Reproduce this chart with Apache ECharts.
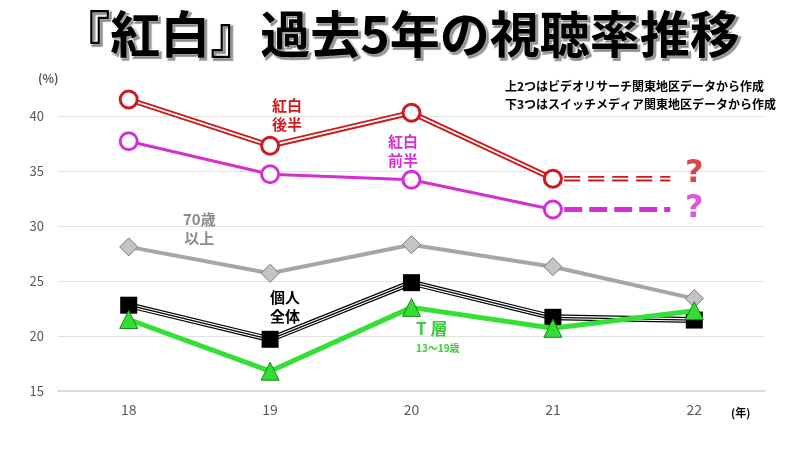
<!DOCTYPE html>
<html>
<head>
<meta charset="utf-8">
<script src="https://cdn.jsdelivr.net/npm/echarts@6/dist/echarts.min.js"></script>
<style>html,body{margin:0;padding:0;background:#fff;}#c{width:800px;height:450px;}</style>
</head>
<body>
<div id="c"></div>
<script>
const years = ['18', '19', '20', '21', '22'];
const kohakuLate = [41.5, 37.3, 40.3, 34.3, null];
const kohakuEarly = [37.7, 34.7, 34.2, 31.5, null];
const over70 = [28.1, 25.7, 28.3, 26.3, 23.4];
const allPersons = [22.8, 19.7, 24.85, 21.7, 21.45];
const teens = [21.5, 16.8, 22.6, 20.7, 22.3];
// projected (unknown) 2022 values for 紅白, drawn as dashed stubs toward "?"
const lateProjection = [[3.08, 34.3], [3.83, 34.3]];
const earlyProjection = [[3.08, 31.5], [3.83, 31.5]];
const questionMarks = [[4, 34.3, '#d0181e', -5], [4, 31.5, '#d42fd4', -1]];

const JP = '"Noto Sans CJK JP", sans-serif';
const RED = '#cc1a1e', PINK = '#d42fd4', GREY = '#a6a6a6', GREEN = '#33e033';

const chart = echarts.init(document.getElementById('c'));

function lineS(data, color, width, z, extra) {
  return Object.assign({
    type: 'line', data: data, xAxisIndex: 0, yAxisIndex: 0,
    symbol: 'none', silent: true, z: z,
    lineStyle: { color: color, width: width },
    itemStyle: { color: color }
  }, extra || {});
}
function markS(data, symbol, size, fill, border, bw, z) {
  return {
    type: 'line', data: data, xAxisIndex: 0, yAxisIndex: 0,
    symbol: symbol, symbolSize: size, showAllSymbol: true, z: z,
    lineStyle: { opacity: 0, width: 0 },
    itemStyle: { color: fill, borderColor: border, borderWidth: bw, opacity: 1 }
  };
}
function dashS(data, color, width, dash, z) {
  return {
    type: 'line', data: data, xAxisIndex: 1, yAxisIndex: 0,
    symbol: 'none', silent: true, z: z,
    lineStyle: { color: color, width: width, type: dash, cap: 'butt' }
  };
}

const series = [
  // 70歳以上
  lineS(over70, GREY, 4, 2),
  markS(over70, 'diamond', 18, '#c4c4c4', '#7a7a7a', 1, 3),
  // 個人全体 (triple line)
  lineS(allPersons, '#000', 6, 4),
  lineS(allPersons, '#fff', 3.6, 4),
  lineS(allPersons, '#000', 1.3, 4),
  markS(allPersons, 'rect', 17, '#000', '#000', 0, 5),
  // T層
  lineS(teens, GREEN, 5, 6),
  markS(teens, 'triangle', 18, '#33dd33', '#188a18', 1, 7),
  // 紅白前半
  lineS(kohakuEarly, PINK, 3, 8),
  dashS(earlyProjection, PINK, 5, [18, 7], 8),
  markS(kohakuEarly, 'circle', 17, '#fff', PINK, 3, 9),
  // 紅白後半 (double line)
  lineS(kohakuLate, RED, 5.5, 10),
  lineS(kohakuLate, '#fff', 1.8, 10),
  dashS(lateProjection, RED, 5.5, [16, 8], 10),
  dashS(lateProjection, '#fff', 1.8, [16, 8], 10),
  markS(kohakuLate, 'circle', 17, '#fff', RED, 3, 11),
  // question marks
  {
    type: 'scatter', xAxisIndex: 1, yAxisIndex: 0, symbolSize: 0, silent: true, z: 12,
    data: questionMarks.map(q => ({ value: [q[0], q[1]], label: { color: q[2], offset: [0, q[3]] } })),
    label: {
      show: true, position: 'inside', formatter: '?',
      fontSize: 32, fontWeight: 900, fontFamily: '"DejaVu Sans", sans-serif'
    }
  }
];

function txt(x, y, text, size, color, align) {
  return {
    type: 'text', left: x, top: y, silent: true, z: 100,
    style: {
      text: text, fontSize: size, fontWeight: 'bold', fontFamily: JP,
      fill: color, textAlign: align || 'center', lineHeight: size + 4
    }
  };
}

chart.setOption({
  animation: false,
  backgroundColor: '#fff',
  title: {
    text: '『紅白』過去5年の視聴率推移',
    left: 'center', top: 4,
    textStyle: {
      fontSize: 50, fontWeight: 'bold', fontFamily: JP, color: '#000',
      textBorderColor: '#fff', textBorderWidth: 2,
      textShadowColor: 'rgba(120,120,120,0.7)', textShadowOffsetX: 2, textShadowOffsetY: 2, textShadowBlur: 1
    }
  },
  grid: { left: 58, right: 35, top: 61, bottom: 59 },
  xAxis: [
    {
      type: 'category', data: years, boundaryGap: true,
      axisLine: { show: true, lineStyle: { color: '#dcdcdc', width: 2 } },
      axisTick: { show: false },
      axisLabel: { color: '#595959', fontSize: 14, margin: 12, fontFamily: JP }
    },
    { type: 'value', min: -0.5, max: 4.5, show: false }
  ],
  yAxis: {
    type: 'value', min: 15, max: 45, interval: 5,
    axisLine: { show: false }, axisTick: { show: false },
    axisLabel: { color: '#595959', fontSize: 13, margin: 14, fontFamily: JP, showMaxLabel: false },
    splitLine: { lineStyle: { color: ['#dedede', '#e2e2e2', '#e2e2e2', '#e2e2e2', '#e2e2e2', '#e2e2e2', 'rgba(0,0,0,0)'], width: 1 } }
  },
  graphic: [
    txt(38, 70, '(%)', 12, '#555'),
    txt(505, 78, '上2つはビデオリサーチ関東地区データから作成', 12, '#000', 'left'),
    txt(505, 96, '下3つはスイッチメディア関東地区データから作成', 12, '#000', 'left'),
    txt(272, 96, '紅白\n後半', 15, '#d0181e'),
    txt(388, 132, '紅白\n前半', 15, PINK),
    txt(183, 210, '70歳\n以上', 15, '#8a8a8a'),
    txt(270, 288, '個人\n全体', 15, '#000'),
    txt(416, 318, 'T 層', 17, '#3ccc3c'),
    txt(416, 341, '13〜19歳', 10, '#3ccc3c'),
    txt(731, 405, '(年)', 11, '#000')
  ],
  series: series
});
</script>
</body>
</html>
